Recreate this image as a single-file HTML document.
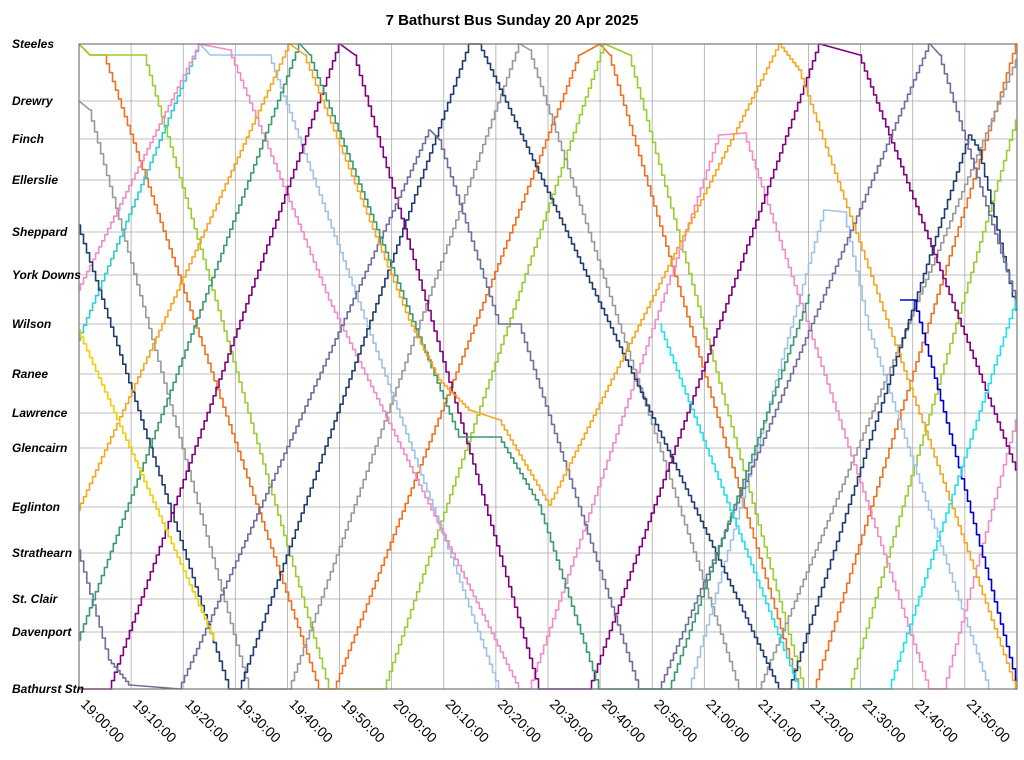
<!DOCTYPE html>
<html><head><meta charset="utf-8"><style>
body{margin:0;background:#fff;}
svg text{font-family:"Liberation Sans",sans-serif;}
</style></head><body>
<svg id="s" width="1024" height="755" xmlns="http://www.w3.org/2000/svg">
<rect width="1024" height="755" fill="#fff"/>
<text x="512" y="25" text-anchor="middle" font-size="15" font-weight="bold">7 Bathurst Bus Sunday 20 Apr 2025</text>
<g id="grid"></g>
<g id="lines" fill="none" stroke-width="1.6" stroke-linejoin="round"></g>
<rect x="79" y="44" width="938" height="645" fill="none" stroke="#777" stroke-width="1.2"/>
<g id="labels" font-size="12" font-weight="bold" font-style="italic"></g>
<g id="xl" font-size="14"></g>
</svg>
<script>
var ns="http://www.w3.org/2000/svg";
function el(p,t,a,txt){var e=document.createElementNS(ns,t);for(var k in a)e.setAttribute(k,a[k]);if(txt)e.textContent=txt;document.getElementById(p).appendChild(e);}
var stops=[["Steeles",44],["Drewry",101],["Finch",139],["Ellerslie",180],["Sheppard",232],["York Downs",275],["Wilson",324],["Ranee",374],["Lawrence",413],["Glencairn",448],["Eglinton",507],["Strathearn",553],["St. Clair",599],["Davenport",632],["Bathurst Stn",689]];
stops.forEach(function(s){el("grid","line",{x1:79,x2:1017,y1:s[1],y2:s[1],stroke:"#aaa","stroke-width":0.8});el("labels","text",{x:12,y:s[1]+4},s[0]);});
for(var i=0;i<18;i++){var x=79+i*52.11;el("grid","line",{x1:x,x2:x,y1:44,y2:689,stroke:"#aaa","stroke-width":0.8});
var h=19+Math.floor(i/6),m=(i%6)*10;var lab=h+":"+(m<10?"0":"")+m+":00";
el("xl","text",{x:x+1,y:705,transform:"rotate(45 "+(x+1)+" 705)"},lab);}
var tr=[
["#f07020",[[79,44],[90,55],[105,55],[320,689],[335,689],[580,55],[600,44],[610,55],[800,689],[815,689],[1017,44]]],
["#9acd32",[[79,44],[90,55],[145,55],[330,689],[385,689],[605,44],[630,55],[805,689],[850,689],[1017,120]]],
["#999999",[[79,101],[90,110],[250,689],[290,689],[520,44],[530,50],[740,689],[760,689],[1017,60]]],
["#33cccc",[[79,340],[200,44]]],
["#9dc3e6",[[200,44],[210,55],[270,55],[500,689],[515,689],[690,689],[825,210],[845,212],[870,330],[960,600],[990,689]]],
["#f08cc8",[[79,290],[200,44],[230,50],[330,300],[520,689],[530,689],[720,135],[745,133],[930,689],[945,689],[1017,420]]],
["#1f3c6e",[[79,225],[230,689],[240,689],[470,44],[480,44],[780,689],[790,689],[970,135],[980,150],[1017,310]]],
["#800080",[[79,689],[110,689],[340,44],[355,55],[540,689],[590,689],[820,44],[860,55],[1017,470]]],
["#6e6e9e",[[79,550],[110,660],[130,685],[180,689],[430,130],[440,140],[500,324],[520,324],[640,689],[660,689],[930,44],[940,55],[1017,300]]],
["#3a9a70",[[79,640],[300,44],[310,55],[390,260],[460,437],[500,437],[540,505],[600,689],[670,689],[810,295]]],
["#f5a623",[[79,510],[290,44],[305,55],[410,320],[440,380],[470,410],[500,420],[550,505],[780,44],[800,70],[1017,689]]],
["#f0d000",[[79,330],[215,640]]],
["#0000cd",[[900,300],[915,300],[1017,680]]],
["#22e0e8",[[660,324],[800,689],[890,689],[1017,300]]]
];
tr.forEach(function(t){var p=t[1],pts=[p[0][0]+","+p[0][1]];
for(var i=1;i<p.length;i++){var a=p[i-1],b=p[i],dx=b[0]-a[0],dy=b[1]-a[1];
if(Math.abs(dy)<15){pts.push(b[0]+","+b[1]);continue;}
var n=Math.max(1,Math.round(Math.abs(dx)/3));var py=a[1];
for(var k=1;k<=n;k++){var x=a[0]+dx*k/n,y=a[1]+dy*k/n;var xm=a[0]+dx*(k-0.5)/n;pts.push(xm.toFixed(1)+","+py.toFixed(1));pts.push(xm.toFixed(1)+","+y.toFixed(1));pts.push(x.toFixed(1)+","+y.toFixed(1));py=y;}}
el("lines","polyline",{points:pts.join(" "),stroke:t[0]});});
</script>
</body></html>
